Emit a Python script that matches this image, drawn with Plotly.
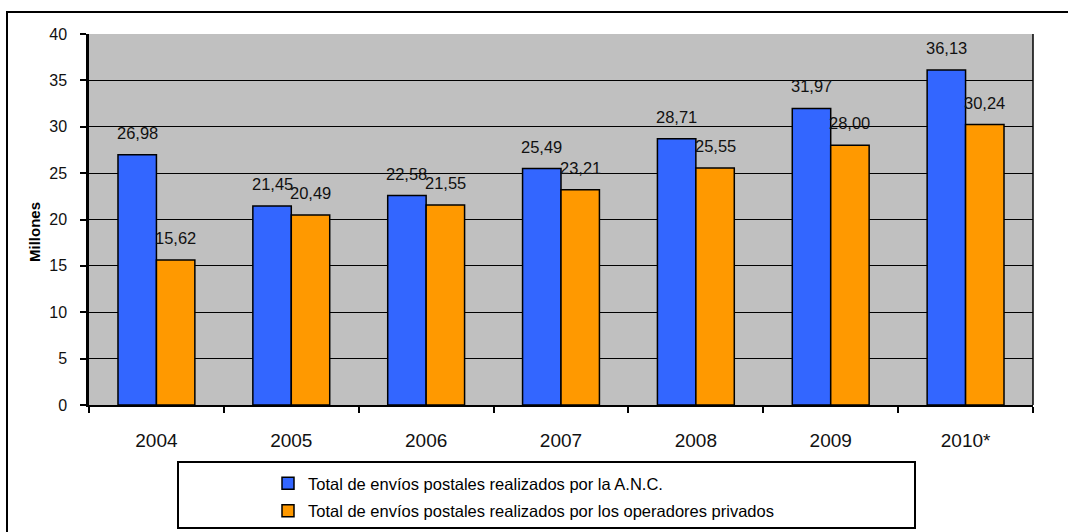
import plotly.graph_objects as go

years = ["2004", "2005", "2006", "2007", "2008", "2009", "2010*"]
anc = [26.98, 21.45, 22.58, 25.49, 28.71, 31.97, 36.13]
privados = [15.62, 20.49, 21.55, 23.21, 25.55, 28.00, 30.24]
name_anc = "Total de envíos postales realizados por la A.N.C."
name_priv = "Total de envíos postales realizados por los operadores privados"
y_ticks = [0, 5, 10, 15, 20, 25, 30, 35, 40]

W, H = 1068, 532
L, R, T, B = 89, 35, 34, 127
pw, ph = W - L - R, H - T - B

def px(x):
    return (x - L) / pw

def py(y):
    return (H - B - y) / ph

pos = list(range(len(years)))
bounds = [i - 0.5 for i in range(len(years) + 1)]
BARGAP = 0.43
half = (1 - BARGAP) / 4

fig = go.Figure()
fig.add_trace(go.Bar(x=pos, y=anc, name=name_anc, legendgroup="a",
                     marker=dict(color="#3366FF", line=dict(color="black", width=1.5))))
fig.add_trace(go.Bar(x=pos, y=privados, name=name_priv, legendgroup="b",
                     marker=dict(color="#FF9900", line=dict(color="black", width=1.5))))

annotations = []
for vals, off in ((anc, -half), (privados, half)):
    for p, v in zip(pos, vals):
        annotations.append(dict(x=p + off, y=v, xref="x", yref="y", text=f"{v:.2f}".replace(".", ","),
                                showarrow=False, yshift=11, yanchor="bottom",
                                font=dict(family="Liberation Sans, Arial", size=16.5, color="#111")))

annotations.append(dict(x=px(34), y=py(232), xref="paper", yref="paper", text="<b>Millones</b>",
                        textangle=-90, showarrow=False, xanchor="center", yanchor="middle",
                        font=dict(family="Liberation Sans, Arial", size=15, color="black")))

shapes = [
    dict(type="rect", xref="paper", yref="paper", x0=px(7), x1=px(1080), y0=py(545), y1=py(12),
         line=dict(color="black", width=2), fillcolor="rgba(0,0,0,0)", layer="below"),
    dict(type="rect", xref="paper", yref="paper", x0=px(178), x1=px(915), y0=py(528), y1=py(462),
         line=dict(color="black", width=2), fillcolor="white", layer="below"),
    dict(type="line", xref="paper", yref="paper", x0=1, x1=1, y0=0, y1=1,
         line=dict(color="black", width=1.5)),
]

fig.update_layout(
    width=W, height=H,
    margin=dict(l=L, r=R, t=T, b=B, pad=0, autoexpand=False),
    paper_bgcolor="white",
    plot_bgcolor="#C0C0C0",
    barmode="group",
    bargap=BARGAP,
    bargroupgap=0,
    showlegend=True,
    legend=dict(x=px(268), y=py(466), xanchor="left", yanchor="top",
                bgcolor="rgba(0,0,0,0)", borderwidth=0, tracegroupgap=3,
                font=dict(family="Liberation Sans, Arial", size=16.5, color="black")),
    annotations=annotations,
    shapes=shapes,
    xaxis=dict(range=[-0.5, len(years) - 0.5], tickvals=pos, ticktext=years, ticks="",
               showline=True, linecolor="black", linewidth=2,
               showgrid=False, zeroline=False, ticklabelstandoff=17, fixedrange=True,
               automargin=False,
               minor=dict(tickvals=bounds, ticks="outside", ticklen=6, tickcolor="black",
                          tickwidth=1.5, showgrid=False),
               tickfont=dict(family="Liberation Sans, Arial", size=19, color="#111")),
    yaxis=dict(range=[0, 40], tickvals=y_ticks, showline=True, linecolor="black", linewidth=2.5,
               ticks="outside", ticklen=6, tickcolor="black", tickwidth=1.5,
               showgrid=True, gridcolor="black", gridwidth=1.2, zeroline=False,
               ticklabelstandoff=10, fixedrange=True, automargin=False,
               tickfont=dict(family="Liberation Sans, Arial", size=16, color="#111")),
)

fig.write_html("out.html", config={"displayModeBar": False},
               post_script="document.body.style.margin='0';")
